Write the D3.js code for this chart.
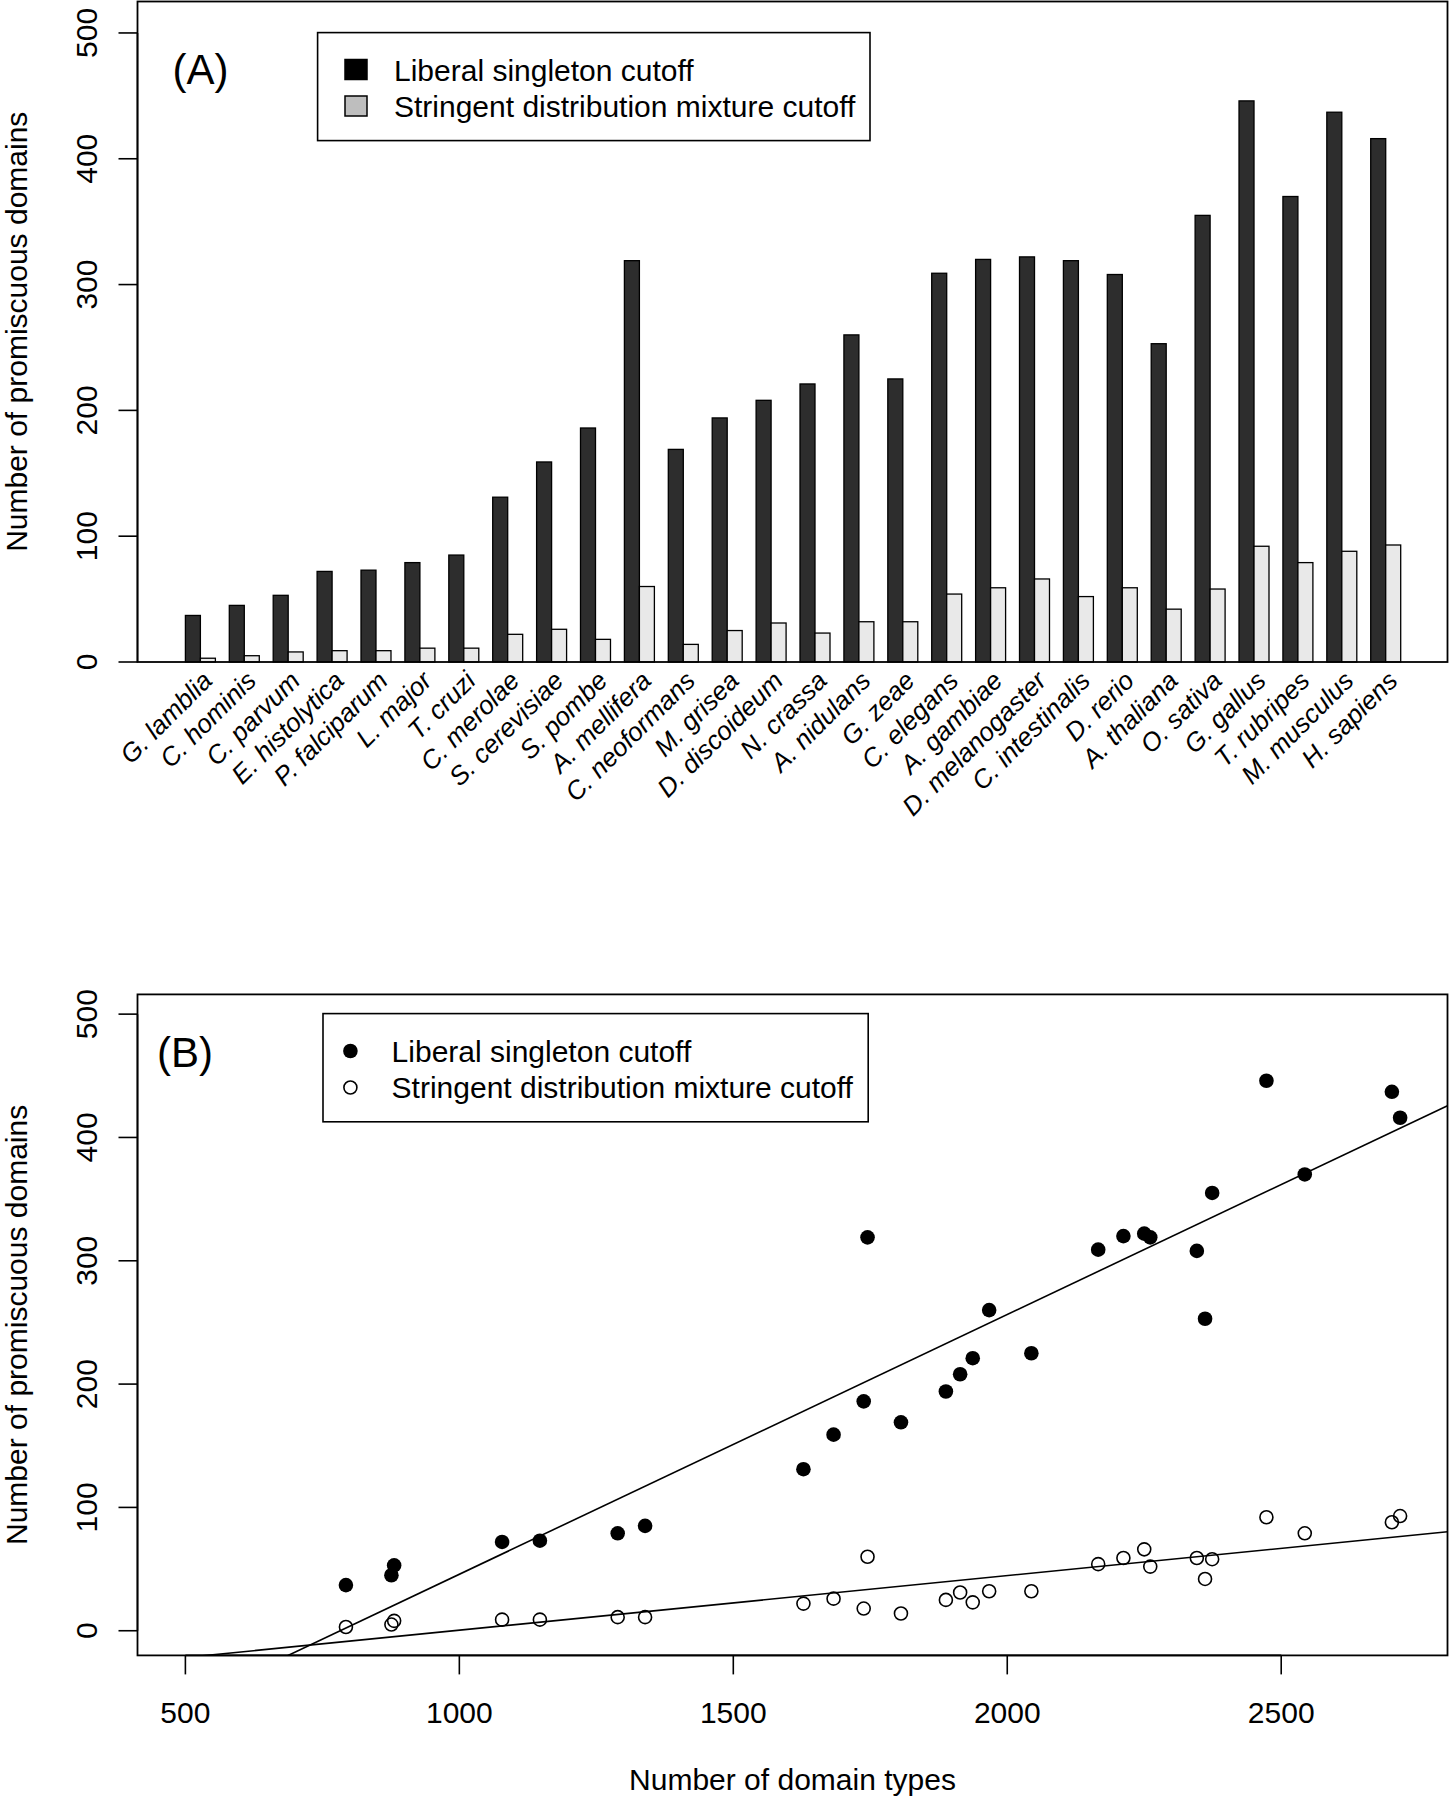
<!DOCTYPE html>
<html>
<head>
<meta charset="utf-8">
<script src="https://d3js.org/d3.v7.min.js"></script>
<style>
    body { margin: 0; background: #fff; }
    text { font-family: "Liberation Sans", Arial, sans-serif; fill: #000; }
</style>
</head>
<body>
<div id="canvas"></div>

<script>
    // organisms, ordered as in panel A
    const organisms = ["G. lamblia", "C. hominis", "C. parvum", "E. histolytica", "P. falciparum",
        "L. major", "T. cruzi", "C. merolae", "S. cerevisiae", "S. pombe", "A. mellifera",
        "C. neoformans", "M. grisea", "D. discoideum", "N. crassa", "A. nidulans", "G. zeae",
        "C. elegans", "A. gambiae", "D. melanogaster", "C. intestinalis", "D. rerio",
        "A. thaliana", "O. sativa", "G. gallus", "T. rubripes", "M. musculus", "H. sapiens"];

    // number of promiscuous domains, liberal singleton cutoff
    const liberal = [37, 45, 53, 72, 73, 79, 85, 131, 159, 186, 319, 169, 194, 208, 221, 260, 225,
        309, 320, 322, 319, 308, 253, 355, 446, 370, 437, 416];

    // number of promiscuous domains, stringent distribution mixture cutoff
    const stringent = [3, 5, 8, 9, 9, 11, 11, 22, 26, 18, 60, 14, 25, 31, 23, 32, 32,
        54, 59, 66, 52, 59, 42, 58, 92, 79, 88, 93];

    // number of domain types (panel B x values)
    const domainTypes = [793, 876, 881, 1078, 1147, 1289, 1339, 1628, 1683, 1738, 1745, 1806,
        1888, 1914, 1937, 1967, 2044, 2166, 2212, 2250, 2261, 2346, 2361, 2374, 2473, 2543,
        2702, 2717];

    const yTicks = [0, 100, 200, 300, 400, 500];
    const xTicksB = [500, 1000, 1500, 2000, 2500];
    const seriesNames = ["Liberal singleton cutoff", "Stringent distribution mixture cutoff"];

    const width = 1450;
    const height = 1800;
    const left = 137.5, right = 1447.5;
    const fontSize = 30;

    const darkFill = "#2d2d2d";
    const lightFill = "#e9e9e9";

    const svg = d3.select("#canvas")
        .append("svg")
        .attr("width", width)
        .attr("height", height);

    // left axis in R style: ticks outward, labels rotated
    function drawYAxis(g, y) {
        g.append("line")
            .attr("x1", left).attr("x2", left)
            .attr("y1", y(0)).attr("y2", y(500))
            .attr("stroke", "black").attr("stroke-width", 1.6);
        g.selectAll(".ytick")
            .data(yTicks)
            .enter()
            .append("line")
            .attr("x1", left).attr("x2", left - 19)
            .attr("y1", d => y(d)).attr("y2", d => y(d))
            .attr("stroke", "black").attr("stroke-width", 1.6);
        g.selectAll(".ylab")
            .data(yTicks)
            .enter()
            .append("text")
            .attr("transform", d => `translate(96.5,${y(d)}) rotate(-90)`)
            .attr("text-anchor", "middle")
            .attr("font-size", fontSize)
            .text(d => d);
        const [r0, r1] = y.range();
        g.append("text")
            .attr("transform", `translate(27,${(r0 + r1) / 2}) rotate(-90)`)
            .attr("text-anchor", "middle")
            .attr("font-size", fontSize)
            .text("Number of promiscuous domains");
    }

    // ---------- Panel A: bar chart ----------
    const gA = svg.append("g");
    const yA = d3.scaleLinear().domain([0, 525]).range([662, 1.5]);
    const xA = d3.scaleBand().domain(organisms).range([185.4, 1400.7]).paddingInner(0.317);
    const xSub = d3.scaleBand().domain(["liberal", "stringent"]).range([0, xA.bandwidth()]);

    const barData = organisms.map((name, i) => ({name, liberal: liberal[i], stringent: stringent[i]}));

    const groups = gA.selectAll(".grp")
        .data(barData)
        .enter()
        .append("g")
        .attr("transform", d => `translate(${xA(d.name)},0)`);

    groups.selectAll("rect")
        .data(d => [{key: "liberal", value: d.liberal}, {key: "stringent", value: d.stringent}])
        .enter()
        .append("rect")
        .attr("x", d => xSub(d.key))
        .attr("width", xSub.bandwidth())
        .attr("y", d => yA(d.value))
        .attr("height", d => yA(0) - yA(d.value))
        .attr("fill", d => d.key === "liberal" ? darkFill : lightFill)
        .attr("stroke", "black")
        .attr("stroke-width", 1.3);

    gA.append("rect")
        .attr("x", left).attr("y", yA.range()[1])
        .attr("width", right - left).attr("height", yA.range()[0] - yA.range()[1])
        .attr("fill", "none").attr("stroke", "black").attr("stroke-width", 1.8);

    drawYAxis(gA, yA);

    gA.selectAll(".xlab")
        .data(organisms)
        .enter()
        .append("text")
        .attr("transform", d => `translate(${xA(d) + xA.bandwidth() / 2 + 7},676) rotate(-45)`)
        .attr("text-anchor", "end")
        .attr("dominant-baseline", "central")
        .attr("font-size", 26)
        .attr("font-style", "italic")
        .text(d => d);

    gA.append("text")
        .attr("x", 172.5).attr("y", 83.5)
        .attr("font-size", 42)
        .text("(A)");

    // legend A
    const legA = gA.append("g");
    legA.append("rect")
        .attr("x", 317.6).attr("y", 32.6).attr("width", 552.4).attr("height", 108)
        .attr("fill", "white").attr("stroke", "black").attr("stroke-width", 1.6);
    legA.selectAll(".sw")
        .data(seriesNames)
        .enter()
        .append("rect")
        .attr("x", 345).attr("y", (d, i) => 59.5 + i * 36.5)
        .attr("width", 22).attr("height", 20)
        .attr("fill", (d, i) => i === 0 ? "black" : "#bebebe")
        .attr("stroke", "black").attr("stroke-width", 1.5);
    legA.selectAll(".lt")
        .data(seriesNames)
        .enter()
        .append("text")
        .attr("x", 394).attr("y", (d, i) => 80.5 + i * 36.5)
        .attr("font-size", fontSize)
        .text(d => d);

    // ---------- Panel B: scatter ----------
    const gB = svg.append("g");
    const xB = d3.scaleLinear().domain([412.6, 2803.5]).range([left, right]);
    const yB = d3.scaleLinear().domain([-20, 516]).range([1655.4, 994.4]);

    svg.append("defs").append("clipPath").attr("id", "clipB")
        .append("rect")
        .attr("x", left).attr("y", yB.range()[1])
        .attr("width", right - left).attr("height", yB.range()[0] - yB.range()[1]);

    // least squares fit, as abline(lm(y ~ x))
    function fit(xs, ys) {
        const mx = d3.mean(xs), my = d3.mean(ys);
        const sxy = d3.sum(xs, (x, i) => (x - mx) * (ys[i] - my));
        const sxx = d3.sum(xs, x => (x - mx) * (x - mx));
        const b = sxy / sxx;
        return {a: my - b * mx, b};
    }

    const fits = [fit(domainTypes, liberal), fit(domainTypes, stringent)];
    const xDom = xB.domain();

    gB.append("g")
        .attr("clip-path", "url(#clipB)")
        .selectAll("line")
        .data(fits)
        .enter()
        .append("line")
        .attr("x1", xB(xDom[0])).attr("x2", xB(xDom[1]))
        .attr("y1", f => yB(f.a + f.b * xDom[0]))
        .attr("y2", f => yB(f.a + f.b * xDom[1]))
        .attr("stroke", "black").attr("stroke-width", 1.6);

    const pts = domainTypes.map((x, i) => ({x, lib: liberal[i], str: stringent[i]}));

    gB.selectAll(".open")
        .data(pts)
        .enter()
        .append("circle")
        .attr("cx", d => xB(d.x)).attr("cy", d => yB(d.str))
        .attr("r", 6.5)
        .attr("fill", "none").attr("stroke", "black").attr("stroke-width", 1.6);

    gB.selectAll(".filled")
        .data(pts)
        .enter()
        .append("circle")
        .attr("cx", d => xB(d.x)).attr("cy", d => yB(d.lib))
        .attr("r", 7.3)
        .attr("fill", "black");

    gB.append("rect")
        .attr("x", left).attr("y", yB.range()[1])
        .attr("width", right - left).attr("height", yB.range()[0] - yB.range()[1])
        .attr("fill", "none").attr("stroke", "black").attr("stroke-width", 1.8);

    drawYAxis(gB, yB);

    // bottom axis
    gB.append("line")
        .attr("x1", xB(500)).attr("x2", xB(2500))
        .attr("y1", yB.range()[0]).attr("y2", yB.range()[0])
        .attr("stroke", "black").attr("stroke-width", 1.6);
    gB.selectAll(".xtick")
        .data(xTicksB)
        .enter()
        .append("line")
        .attr("x1", d => xB(d)).attr("x2", d => xB(d))
        .attr("y1", yB.range()[0]).attr("y2", yB.range()[0] + 19)
        .attr("stroke", "black").attr("stroke-width", 1.6);
    gB.selectAll(".xlabB")
        .data(xTicksB)
        .enter()
        .append("text")
        .attr("x", d => xB(d)).attr("y", 1723)
        .attr("text-anchor", "middle")
        .attr("font-size", fontSize)
        .text(d => d);
    gB.append("text")
        .attr("x", (left + right) / 2).attr("y", 1790)
        .attr("text-anchor", "middle")
        .attr("font-size", fontSize)
        .text("Number of domain types");

    gB.append("text")
        .attr("x", 157).attr("y", 1067)
        .attr("font-size", 42)
        .text("(B)");

    // legend B
    const legB = gB.append("g");
    legB.append("rect")
        .attr("x", 323).attr("y", 1013.6).attr("width", 545.2).attr("height", 108.2)
        .attr("fill", "white").attr("stroke", "black").attr("stroke-width", 1.6);
    legB.append("circle")
        .attr("cx", 350.4).attr("cy", 1051).attr("r", 7.3)
        .attr("fill", "black");
    legB.append("circle")
        .attr("cx", 350.4).attr("cy", 1087.5).attr("r", 6.5)
        .attr("fill", "none").attr("stroke", "black").attr("stroke-width", 1.6);
    legB.selectAll(".lt")
        .data(seriesNames)
        .enter()
        .append("text")
        .attr("x", 391.6).attr("y", (d, i) => 1061.8 + i * 36.2)
        .attr("font-size", fontSize)
        .text(d => d);
</script>
</body>
</html>
